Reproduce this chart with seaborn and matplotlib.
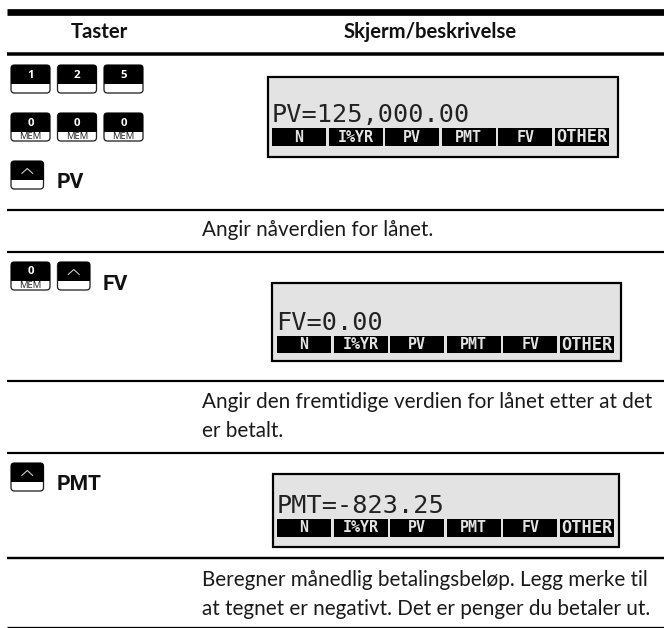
import matplotlib
matplotlib.use("Agg")
import matplotlib.pyplot as plt
from matplotlib.patches import FancyBboxPatch, Rectangle
import seaborn as sns

W, H = 664, 628
BODY = "Lato"

header_labels = ["Taster", "Skjerm/beskrivelse"]
softkeys = ["N", "I%YR", "PV", "PMT", "FV", "OTHER"]
screen_texts = ["PV=125,000.00", "FV=0.00", "PMT=-823.25"]
action_labels = ["PV", "FV", "PMT"]
key_row_1 = ["1", "2", "5"]
key_row_2 = ["0", "0", "0"]
key_sublabel = "MEM"
descriptions = [
    "Angir nåverdien for lånet.",
    "Angir den fremtidige verdien for lånet etter at det",
    "er betalt.",
    "Beregner månedlig betalingsbeløp. Legg merke til",
    "at tegnet er negativt. Det er penger du betaler ut.",
]

# layout, in image pixels
rule_y = [11.5, 53.8, 209.5, 251.7, 381, 453, 558, 627]
rule_px = [6.7, 3.5, 2.2, 2.2, 2.2, 2.2, 2.4, 1.3]
desc_pos = [(202, 236.5), (202, 408), (202, 437), (202, 586), (202, 615)]
screens = [(268, 77, 350, 80), (272, 283, 349, 78), (273, 474, 346, 73)]
screen_base = [(272, 122), (276, 330), (277, 513)]
bar_pos = [(272, 128), (277, 335.5), (277, 519)]

sns.set_theme(style="white")
plt.rcParams["font.family"] = [BODY, "DejaVu Sans"]
fig = plt.figure(figsize=(W / 100, H / 100), dpi=100)
ax = fig.add_axes([0, 0, 1, 1])
ax.set_xlim(0, W)
ax.set_ylim(H, 0)
ax.axis("off")
PX = 0.72


def key(x, y, w, label=None, sub=None, caret=False):
    h, split = 28, 18.5
    ax.add_patch(FancyBboxPatch((x + 1.5, y + 1.5), w - 3, h - 3,
                                boxstyle="round,pad=1.5,rounding_size=3.5",
                                fc="white", ec="#222222", lw=1.0 * PX * 1.3, zorder=2))
    clip = Rectangle((x, y), w, split, transform=ax.transData)
    top = FancyBboxPatch((x + 1.5, y + 1.5), w - 3, h - 3,
                         boxstyle="round,pad=1.5,rounding_size=3.5",
                         fc="black", ec="black", lw=0.5, zorder=3)
    ax.add_patch(top)
    top.set_clip_path(clip)
    if label:
        ax.text(x + w / 2, y + 10, label, color="white", ha="center", va="center",
                fontsize=11.5 * PX, fontweight="bold", family="Open Sans", zorder=4)
    if sub:
        ax.text(x + w / 2, y + 23.3, sub, color="#222222", ha="center", va="center",
                fontsize=9.5 * PX, family="Open Sans", zorder=4)
    if caret:
        cx = x + w / 2
        sns.lineplot(x=[cx - 5.5, cx, cx + 5.5], y=[y + 12.5, y + 7.5, y + 12.5], ax=ax,
                     color="#cccccc", lw=0.8, zorder=4, legend=False,
                     estimator=None, sort=False)


# table rules
for y, px in zip(rule_y, rule_px):
    sns.lineplot(x=[7, W], y=[y, y], ax=ax, color="black", lw=px * PX,
                 solid_capstyle="butt", legend=False, estimator=None)

# headers
ax.text(99.5, 38, header_labels[0], ha="center", va="baseline", fontsize=20.3 * PX,
        fontweight="bold", color="#111111")
ax.text(430, 38, header_labels[1], ha="center", va="baseline", fontsize=20.3 * PX,
        fontweight="bold", color="#111111")

# keys
for x, lab in zip([11, 57.5, 104], key_row_1):
    key(x, 65, 39, lab)
for x, lab in zip([11, 57.5, 104], key_row_2):
    key(x, 113, 39, lab, key_sublabel)
key(11, 161, 32.5, caret=True)
key(11, 262, 39, "0", key_sublabel)
key(57.5, 262, 32.5, caret=True)
key(11, 463, 32.5, caret=True)

narrow = ["Liberation Sans Narrow", "Roboto"]
ax.text(57, 188, action_labels[0], fontsize=21 * PX, fontweight="bold", family=narrow, color="#111111")
ax.text(103, 290, action_labels[1], fontsize=21 * PX, fontweight="bold", family=narrow, color="#111111")
ax.text(57, 490.5, action_labels[2], fontsize=21 * PX, fontweight="bold", family=narrow, color="#111111")

# calculator screens
for (sx, sy, sw, sh), (tx, ty), (bx, by), txt in zip(screens, screen_base, bar_pos, screen_texts):
    ax.add_patch(Rectangle((sx, sy), sw, sh, fc="#e3e3e3", ec="black", lw=2.2 * PX, zorder=1))
    ax.text(tx, ty, txt, fontsize=25.2 * PX, family="DejaVu Sans Mono", color="#222222",
            va="baseline", zorder=3)
    for i, name in enumerate(softkeys):
        kx = bx + i * 56.6
        ax.add_patch(Rectangle((kx, by), 54, 17.5, fc="black", ec="none", zorder=2))
        ax.text(kx + 27, by + 9, name, color="#e3e3e3", ha="center", va="center",
                fontsize=(17 if len(name) > 4 else 15) * PX, fontweight="bold",
                family="DejaVu Sans Mono", zorder=3)

# descriptions
for (x, y), line in zip(desc_pos, descriptions):
    ax.text(x, y, line, fontsize=20.6 * PX, color="#1a1a1a", va="baseline")

fig.savefig("out.png", dpi=100, facecolor="white")
